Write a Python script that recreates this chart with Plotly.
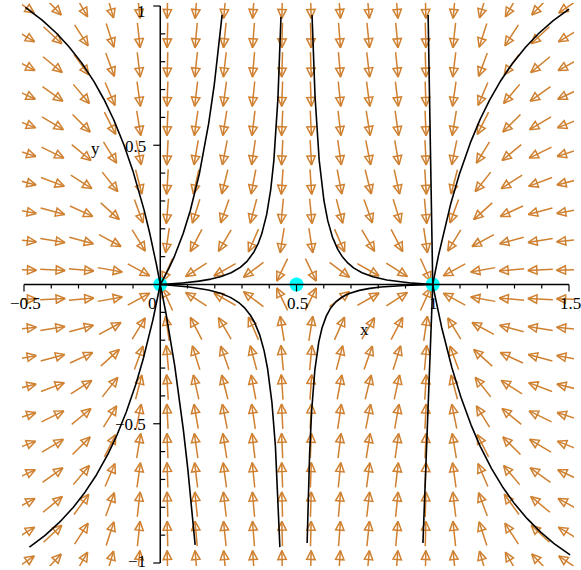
import numpy as np
import plotly.graph_objects as go

# Phase portrait of  x' = x(1-x)(2x-1),  y' = -y
# Equilibria of the system
eq_x = [0.0, 0.5, 1.0]
eq_y = [0.0, 0.0, 0.0]

# Initial conditions of the plotted solution curves
start_x = [-0.495, 0.227, 0.443, 0.557, 0.983, 1.500,
           -0.480, 0.128, 0.439, 0.539, 0.964, 1.504]
start_y = [0.995, 0.968, 0.961, 0.968, 0.968, 0.989,
           -0.943, -0.935, -0.943, -0.928, -0.928, -0.971]

# Axis ticks and labels
x_ticks = [-0.5, 0.0, 0.5, 1.0, 1.5]
x_tick_text = ["\u22120.5", "0", "0.5", "1", "1.5"]
y_ticks = [-1.0, -0.5, 0.5, 1.0]
y_tick_text = ["\u22121", "\u22120.5", "0.5", "1"]

X_MIN, X_MAX = -0.5, 1.5
Y_MIN, Y_MAX = -1.0, 1.0
N_ARROWS = 20

ARROW_COLOR = "rgb(207,128,48)"
FONT = dict(family="Liberation Serif", size=17, color="black")

W, H = 581, 570
ML, MR, MT, MB = 22, 7, 3, 4
SX = 272.5   # pixels per x unit
SY = 278.5   # pixels per y unit

x_range = [X_MIN - 2 / SX, X_MIN + (W - ML - MR - 2) / SX]
y_range = [Y_MIN - 3 / SY, Y_MIN + (H - MT - MB - 3) / SY]


def field(x, y):
    return x * (1 - x) * (2 * x - 1), -y


# ---- direction field arrows (centred on a 20x20 grid, equal length) ----
gx = np.linspace(X_MIN, X_MAX, N_ARROWS)
gy = np.linspace(Y_MIN, Y_MAX, N_ARROWS)
L, HL, HW = 25.0, 9.0, 4.2
shaft_x, shaft_y, head_x, head_y = [], [], [], []
for xv in gx:
    for yv in gy:
        u, v = field(xv, yv)
        pu, pv = u * SX, v * SY
        n = np.hypot(pu, pv)
        if n == 0:
            continue
        dx, dy = pu / n, pv / n
        px, py = -dy, dx
        tail = (xv - dx * L / 2 / SX, yv - dy * L / 2 / SY)
        tip = (xv + dx * L / 2 / SX, yv + dy * L / 2 / SY)
        base = (tip[0] - dx * HL / SX, tip[1] - dy * HL / SY)
        left = (base[0] + px * HW / SX, base[1] + py * HW / SY)
        right = (base[0] - px * HW / SX, base[1] - py * HW / SY)
        shaft_x += [tail[0], tip[0], None]
        shaft_y += [tail[1], tip[1], None]
        head_x += [tip[0], left[0], right[0], tip[0], None]
        head_y += [tip[1], left[1], right[1], tip[1], None]


# ---- solution curves by RK4 ----
def solve(x0, y0, dt=0.004, t_end=16.0):
    xs, ys = [x0], [y0]
    x, y = x0, y0
    for _ in range(int(t_end / dt)):
        k1 = field(x, y)
        k2 = field(x + dt / 2 * k1[0], y + dt / 2 * k1[1])
        k3 = field(x + dt / 2 * k2[0], y + dt / 2 * k2[1])
        k4 = field(x + dt * k3[0], y + dt * k3[1])
        x += dt / 6 * (k1[0] + 2 * k2[0] + 2 * k3[0] + k4[0])
        y += dt / 6 * (k1[1] + 2 * k2[1] + 2 * k3[1] + k4[1])
        xs.append(x)
        ys.append(y)
        if min(np.hypot(x - ex, y - ey) for ex, ey in zip(eq_x, eq_y)) < 4e-4:
            break
    return xs, ys


curve_x, curve_y = [], []
for x0, y0 in zip(start_x, start_y):
    cx, cy = solve(x0, y0)
    curve_x += cx + [None]
    curve_y += cy + [None]

# ---- axes drawn through the origin ----
axis_x = [X_MIN, X_MAX, None, 0, 0]
axis_y = [0, 0, None, Y_MIN, Y_MAX]
tick_x, tick_y = [], []
for k in range(-5, 16):
    xv = k / 10
    length = 7 if k % 5 == 0 else 4
    tick_x += [xv, xv, None]
    tick_y += [0, -length / SY, None]
for k in range(-10, 11):
    yv = k / 10
    if k == 0:
        continue
    if k % 5 == 0:
        tick_x += [0, -7 / SX, None]
    else:
        tick_x += [0, 5 / SX, None]
    tick_y += [yv, yv, None]

fig = go.Figure()
fig.add_trace(go.Scatter(x=shaft_x, y=shaft_y, mode="lines",
                         line=dict(color=ARROW_COLOR, width=1.5), hoverinfo="skip"))
fig.add_trace(go.Scatter(x=head_x, y=head_y, mode="lines",
                         line=dict(color=ARROW_COLOR, width=1.5), hoverinfo="skip"))
fig.add_trace(go.Scatter(x=eq_x, y=eq_y, mode="markers",
                         marker=dict(color="cyan", size=14, line=dict(width=0))))
fig.add_trace(go.Scatter(x=curve_x, y=curve_y, mode="lines",
                         line=dict(color="black", width=1.6), hoverinfo="skip"))
fig.add_trace(go.Scatter(x=axis_x, y=axis_y, mode="lines",
                         line=dict(color="black", width=1.5), hoverinfo="skip"))
fig.add_trace(go.Scatter(x=tick_x, y=tick_y, mode="lines",
                         line=dict(color="black", width=1.2), hoverinfo="skip"))

annotations = []
for xv, txt in zip(x_ticks, x_tick_text):
    annotations.append(dict(x=xv, y=0, text=txt, showarrow=False, font=FONT,
                            xanchor="center", yanchor="middle",
                            xshift=-7.5 if xv == 0 else 1, yshift=-19))
for yv, txt in zip(y_ticks, y_tick_text):
    annotations.append(dict(x=0, y=yv, text=txt, showarrow=False, font=FONT,
                            xanchor="right", yanchor="middle", xshift=-12,
                            yshift=-5 if yv == 1 else (2 if yv == -1 else -1)))
annotations.append(dict(x=0.751, y=-0.160, text="x", showarrow=False, font=FONT,
                        xanchor="center", yanchor="middle"))
annotations.append(dict(x=-0.236, y=0.490, text="y", showarrow=False, font=FONT,
                        xanchor="center", yanchor="middle"))

fig.update_layout(
    width=W, height=H,
    margin=dict(l=ML, r=MR, t=MT, b=MB, pad=0),
    paper_bgcolor="white", plot_bgcolor="white",
    showlegend=False,
    xaxis=dict(range=x_range, visible=False, fixedrange=True),
    yaxis=dict(range=y_range, visible=False, fixedrange=True),
    annotations=annotations,
)

fig.write_html("out.html")
